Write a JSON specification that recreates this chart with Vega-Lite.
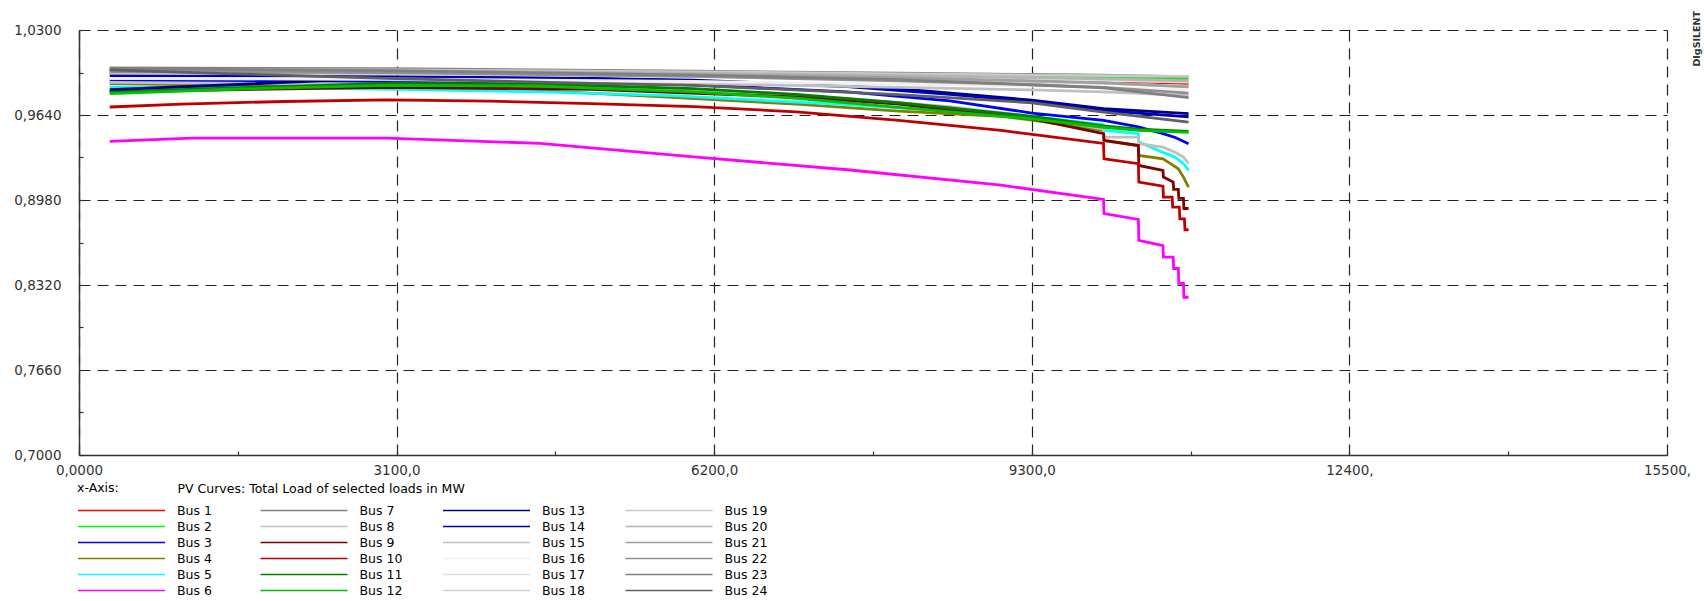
{
  "$schema": "https://vega.github.io/schema/vega-lite/v6.json",
  "width": 1588,
  "height": 425,
  "autosize": {"type": "none"},
  "padding": {"left": 79, "top": 30, "right": 37, "bottom": 146},
  "background": "white",
  "config": {"font": "DejaVu Sans", "view": {"stroke": null}},
  "title": {"text": "DIgSILENT", "orient": "right", "anchor": "start", "angle": 270, "align": "right", "baseline": "middle", "offset": -3, "dx": 12, "font": "DejaVu Sans", "fontSize": 9.5, "fontWeight": "bold", "color": "#333"},
  "data": {"values": [
    {"bus": "Bus 1", "load": [300,3000,6000,8000,9300,10000,10830], "u": [0.9965,0.9965,0.995,0.993,0.9915,0.9905,0.9885]},
    {"bus": "Bus 2", "load": [300,3000,6000,8000,9300,10000,10830], "u": [0.9975,0.9975,0.9965,0.995,0.9935,0.993,0.9915]},
    {"bus": "Bus 3", "load": [300,1500,3000,4500,6000,7500,8500,9300,10000,10340,10580,10700,10830], "u": [0.9905,0.9905,0.990,0.9895,0.9875,0.982,0.975,0.9655,0.9598,0.9547,0.9495,0.9465,0.9417]},
    {"bus": "Bus 4", "load": [300,1500,3000,4500,5700,7000,8000,9000,9300,10000,10005,10340,10345,10580,10650,10730,10780,10830], "u": [0.9883,0.987,0.9855,0.983,0.978,0.9725,0.967,0.963,0.960,0.952,0.944,0.9403,0.9326,0.930,0.9264,0.9222,0.9158,0.908]},
    {"bus": "Bus 5", "load": [300,1500,3100,4500,5800,7500,8500,9300,10000,10005,10340,10345,10580,10700,10780,10830], "u": [0.9857,0.9855,0.984,0.982,0.979,0.972,0.967,0.963,0.9565,0.952,0.9495,0.943,0.935,0.9313,0.9262,0.921]},
    {"bus": "Bus 6", "load": [300,1100,3000,4500,6000,7500,9000,10000,10005,10340,10345,10580,10585,10680,10685,10730,10735,10780,10785,10830], "u": [0.9435,0.946,0.946,0.942,0.9315,0.9215,0.9095,0.8984,0.8875,0.883,0.8666,0.8626,0.8536,0.8536,0.8448,0.8448,0.8332,0.8332,0.8225,0.8225]},
    {"bus": "Bus 7", "load": [300,3000,6000,8000,9300,10000,10830], "u": [1.0005,1.0,0.998,0.9965,0.9955,0.995,0.9935]},
    {"bus": "Bus 8", "load": [300,3000,5000,6000,7500,8500,9300,10000,10005,10340,10345,10580,10700,10780,10830], "u": [0.9893,0.988,0.9855,0.983,0.9765,0.9705,0.963,0.953,0.9468,0.9468,0.9417,0.939,0.935,0.9313,0.9262]},
    {"bus": "Bus 9", "load": [300,3000,5000,7000,8000,9300,10000,10005,10340,10345,10580,10585,10680,10685,10730,10735,10780,10785,10830], "u": [0.982,0.9855,0.984,0.978,0.9725,0.961,0.9496,0.9443,0.9403,0.9248,0.921,0.9158,0.9119,0.9062,0.9062,0.8992,0.8992,0.8914,0.8914]},
    {"bus": "Bus 10", "load": [300,1000,2000,3000,4000,5000,6000,7000,8000,9000,9380,10000,10005,10340,10345,10580,10585,10670,10675,10740,10745,10790,10795,10830], "u": [0.9702,0.9725,0.9745,0.9757,0.9748,0.9728,0.9705,0.9665,0.9598,0.952,0.9482,0.9419,0.930,0.9262,0.9119,0.9088,0.9002,0.9002,0.8924,0.8924,0.8834,0.8834,0.8749,0.8749]},
    {"bus": "Bus 11", "load": [300,1500,3000,4500,5100,6000,7000,8000,9300,10000,10340,10830], "u": [0.9818,0.985,0.9885,0.988,0.9865,0.9845,0.980,0.9735,0.963,0.9555,0.953,0.9512]},
    {"bus": "Bus 12", "load": [300,1500,3000,4500,5100,6000,7000,8000,9300,10000,10340,10830], "u": [0.9806,0.984,0.987,0.9865,0.9845,0.982,0.977,0.970,0.961,0.9545,0.952,0.9505]},
    {"bus": "Bus 13", "load": [300,1500,2600,3600,5000,6000,7000,8000,9300,10000,10830], "u": [0.9837,0.9875,0.9915,0.9927,0.9925,0.991,0.988,0.9845,0.9755,0.9689,0.965]},
    {"bus": "Bus 14", "load": [300,1500,3000,4500,6000,7500,8500,9300,10000,10830], "u": [0.9946,0.9942,0.9938,0.993,0.9905,0.986,0.980,0.9745,0.9675,0.9625]},
    {"bus": "Bus 15", "load": [300,3000,6000,8000,9300,10000,10830], "u": [0.9925,0.9915,0.9885,0.9855,0.9835,0.982,0.979]},
    {"bus": "Bus 16", "load": [300,3000,6000,8000,9300,10000,10830], "u": [0.9925,0.992,0.990,0.988,0.9865,0.9855,0.9835]},
    {"bus": "Bus 17", "load": [300,3000,6000,8000,9300,10000,10830], "u": [0.998,0.9975,0.9955,0.9935,0.992,0.991,0.9895]},
    {"bus": "Bus 18", "load": [300,3000,6000,8000,9300,10000,10830], "u": [0.9965,0.996,0.994,0.9915,0.990,0.9885,0.986]},
    {"bus": "Bus 19", "load": [300,3000,6000,8000,9300,10000,10830], "u": [0.9995,0.999,0.9975,0.996,0.995,0.9945,0.994]},
    {"bus": "Bus 20", "load": [300,3000,6000,8000,9300,10000,10830], "u": [0.999,0.9985,0.9965,0.9945,0.993,0.992,0.9905]},
    {"bus": "Bus 21", "load": [300,3000,6000,8000,9300,10000,10830], "u": [0.9985,0.998,0.9955,0.993,0.9905,0.989,0.9858]},
    {"bus": "Bus 22", "load": [300,3000,6000,8000,9300,10000,10830], "u": [0.9975,0.997,0.994,0.9905,0.9875,0.9855,0.981]},
    {"bus": "Bus 23", "load": [300,3000,6000,8000,9300,10000,10830], "u": [1.0,0.9985,0.995,0.9915,0.9875,0.985,0.9775]},
    {"bus": "Bus 24", "load": [300,1500,3000,5000,6000,8000,9300,10000,10830], "u": [0.999,0.996,0.9925,0.9885,0.987,0.9798,0.9735,0.9663,0.9585]}
  ]},
  "transform": [{"flatten": ["load", "u"]}],
  "mark": {"type": "line", "strokeWidth": 2.8, "clip": true},
  "encoding": {
    "x": {
      "field": "load", "type": "quantitative",
      "scale": {"domain": [0, 15500], "nice": false, "zero": false},
      "axis": {
        "title": "PV Curves: Total Load of selected loads in MW",
        "titleX": 98, "titleY": 33, "titleAlign": "left", "titleBaseline": "middle", "titleAnchor": "start",
        "titleFont": "DejaVu Sans", "titleFontSize": 12.5, "titleFontWeight": "normal", "titleColor": "#000",
        "values": [0,1550,3100,4650,6200,7750,9300,10850,12400,13950,15500],
        "labelExpr": "datum.value % 3100 != 0 ? '' : (datum.value == 0 ? '0,0000' : (datum.value >= 10000 ? format(datum.value, 'd') + ',' : format(datum.value, 'd') + ',0'))",
        "labelFont": "DejaVu Sans", "labelFontSize": 13.5, "labelColor": "#333", "labelPadding": 12,
        "labelFlush": false, "labelOverlap": false, "labelBound": false,
        "grid": true, "gridColor": "#222", "gridDash": [11, 7], "gridWidth": 1.2,
        "gridOpacity": {"condition": {"test": "datum.value % 3100 == 0", "value": 1}, "value": 0},
        "tickSize": -4, "tickColor": "#333", "tickWidth": 1.2,
        "domainColor": "#333", "domainWidth": 1.5
      }
    },
    "y": {
      "field": "u", "type": "quantitative",
      "scale": {"domain": [0.7, 1.03], "nice": false, "zero": false},
      "axis": {
        "title": null,
        "values": [0.7,0.733,0.766,0.799,0.832,0.865,0.898,0.931,0.964,0.997,1.03],
        "labelExpr": "abs((datum.value - 0.7) / 0.066 - round((datum.value - 0.7) / 0.066)) < 0.01 ? replace(format(datum.value, '.4f'), '.', ',') : ''",
        "labelFont": "DejaVu Sans", "labelFontSize": 13.5, "labelColor": "#333", "labelPadding": 22,
        "labelFlush": false, "labelOverlap": false, "labelBound": false,
        "grid": true, "gridColor": "#222", "gridDash": [11, 7], "gridWidth": 1.2,
        "gridOpacity": {"condition": {"test": "abs((datum.value - 0.7) / 0.066 - round((datum.value - 0.7) / 0.066)) < 0.01", "value": 1}, "value": 0},
        "tickSize": -4, "tickColor": "#333", "tickWidth": 1.2,
        "domainColor": "#333", "domainWidth": 1.5
      }
    },
    "color": {
      "field": "bus", "type": "nominal",
      "scale": {
        "domain": ["Bus 1","Bus 7","Bus 13","Bus 19","Bus 2","Bus 8","Bus 14","Bus 20","Bus 3","Bus 9","Bus 15","Bus 21","Bus 4","Bus 10","Bus 16","Bus 22","Bus 5","Bus 11","Bus 17","Bus 23","Bus 6","Bus 12","Bus 18","Bus 24"],
        "range": ["#FF0000","#808080","#000080","#C8C8C8","#00FF00","#C0C0C0","#0000C0","#B4B4B4","#0000FF","#800000","#C0C0C0","#A0A0A0","#808000","#C00000","#F0F0F0","#909090","#00FFFF","#008000","#E0E0E0","#808080","#FF00FF","#00C000","#D0D0D0","#606060"]
      },
      "legend": {
        "orient": "none", "legendX": -2, "legendY": 452, "columns": 4, "direction": "horizontal",
        "title": "x-Axis:", "titleFont": "DejaVu Sans", "titleFontSize": 12.5, "titleFontWeight": "normal", "titleColor": "#000", "titlePadding": 8,
        "symbolType": "stroke", "symbolSize": 7569, "symbolStrokeWidth": 1.5,
        "labelFont": "DejaVu Sans", "labelFontSize": 12.5, "labelColor": "#000", "labelOffset": 11,
        "columnPadding": 39.5, "rowPadding": 0, "clipHeight": 16, "gridAlign": "all", "padding": 0, "labelLimit": 100
      }
    }
  }
}
